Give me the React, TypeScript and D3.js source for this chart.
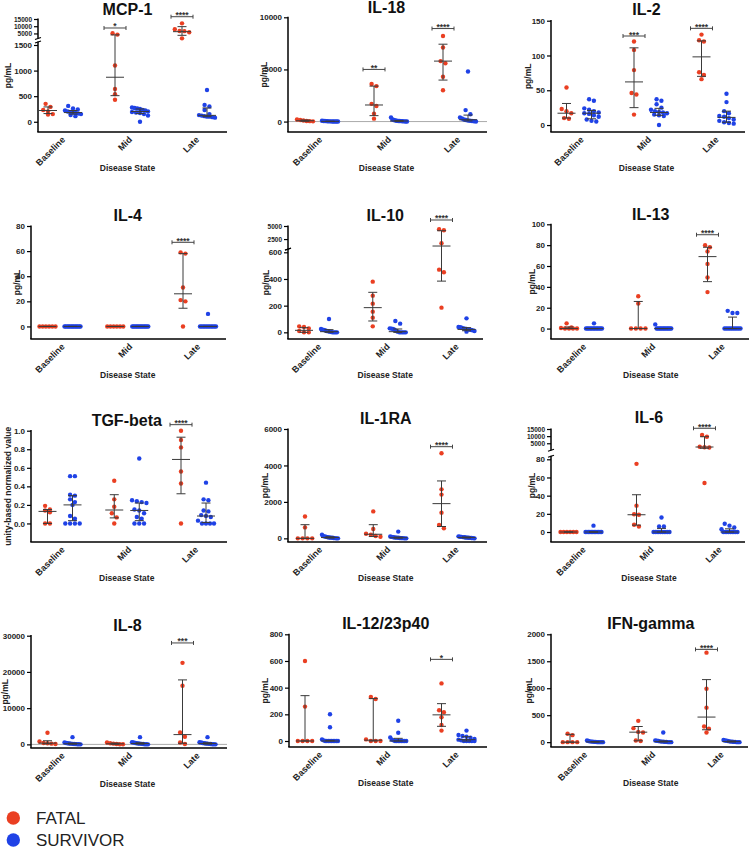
import React, { useEffect, useRef } from "react";
import * as d3 from "d3";

const STATES = ["Baseline", "Mid", "Late"];
const GROUPS = ["FATAL", "SURVIVOR"];
const COLORS = ["#ea3f22", "#1f42e6"];
const FONT = "'Liberation Sans', Arial, Helvetica, sans-serif";

// values per state [Baseline, Mid, Late]; bars are [median, q1, q3]
const MCP1_FATAL = [[350, 290, 230, 200, 150, 140], [5100, 4200, 1100, 640, 540, 430], [12000, 7900, 6700, 6600, 5800, 1600]];
const MCP1_SURV = [[310, 260, 240, 220, 200, 190, 180, 170, 160, 150, 130, 110], [280, 270, 260, 250, 230, 220, 200, 190, 180, 170, 150, 120, 0], [620, 330, 300, 230, 150, 130, 120, 110, 100, 100, 90, 80]];
const MCP1_FATAL_BARS = [[220, 160, 290], [870, 510, 4000], [6230, 3700, 9700]];
const MCP1_SURV_BARS = [[180, 150, 220], [200, 160, 250], [125, 100, 270]];
const MCP1_SIG = [["Mid", 8770, "*"], ["Late", 16590, "****"]];

const IL18_FATAL = [[200, 150, 100, 60, 40, 20], [3600, 3400, 1700, 1500, 750, 280], [8200, 7100, 5800, 5600, 4300, 3000]];
const IL18_SURV = [[80, 60, 50, 40, 30, 20, 20, 10, 10, 5, 0, 0], [400, 200, 150, 100, 80, 60, 50, 40, 30, 20, 10, 0], [4800, 1100, 700, 400, 300, 200, 150, 100, 80, 50, 30, 10]];
const IL18_FATAL_BARS = [[80, 30, 150], [1590, 570, 3400], [5800, 3980, 7420]];
const IL18_SURV_BARS = [[20, 5, 40], [55, 20, 100], [175, 60, 620]];
const IL18_SIG = [["Mid", 5000, "**"], ["Late", 8920, "****"]];

const IL2_FATAL = [[54, 23, 20, 17, 10, 9], [120, 108, 79, 46, 44, 15], [130, 122, 120, 76, 72, 66]];
const IL2_SURV = [[37, 35, 24, 22, 20, 18, 17, 16, 14, 12, 8, 6, 5], [37, 35, 30, 25, 22, 20, 19, 18, 17, 15, 14, 13, 0], [45, 33, 20, 17, 13, 12, 10, 8, 6, 4, 3, 2]];
const IL2_FATAL_BARS = [[17, 10, 31], [62, 25, 111], [98, 70, 121]];
const IL2_SURV_BARS = [[17, 9, 21], [18, 14, 24], [11, 4, 20]];
const IL2_SIG = [["Mid", 128, "***"], ["Late", 139, "****"]];

const IL4_FATAL = [[0, 0, 0, 0, 0, 0], [0, 0, 0, 0, 0, 0], [59, 58, 31, 21, 20, 0]];
const IL4_SURV = [[0, 0, 0, 0, 0, 0, 0, 0, 0, 0, 0, 0, 0], [0, 0, 0, 0, 0, 0, 0, 0, 0, 0, 0, 0, 0], [10, 0, 0, 0, 0, 0, 0, 0, 0, 0, 0, 0]];
const IL4_FATAL_BARS = [[0, 0, 0], [0, 0, 0], [26, 14.5, 58]];
const IL4_SURV_BARS = [[0, 0, 0], [0, 0, 0], [0, 0, 0]];
const IL4_SIG = [["Late", 67, "****"]];

const IL10_FATAL = [[45, 40, 30, 10, 0, 0], [380, 275, 215, 155, 110, 45], [4400, 4200, 1700, 470, 450, 185]];
const IL10_SURV = [[100, 25, 20, 18, 15, 10, 8, 5, 3, 0, 0, 0, 0], [85, 65, 30, 28, 25, 20, 10, 5, 0, 0, 0, 0, 0], [105, 40, 38, 35, 30, 28, 25, 22, 20, 18, 15, 10, 5]];
const IL10_FATAL_BARS = [[15, 0, 35], [185, 85, 300], [1170, 384, 4100]];
const IL10_SURV_BARS = [[5, 0, 20], [5, 0, 25], [22, 12, 35]];
const IL10_SIG = [["Late", 6150, "****"]];

const IL13_FATAL = [[5, 1, 0.5, 0, 0, 0, 0], [31, 24, 0, 0, 0, 0], [80, 78, 74, 62, 49, 35]];
const IL13_SURV = [[5, 0, 0, 0, 0, 0, 0, 0, 0, 0, 0, 0, 0], [4, 0, 0, 0, 0, 0, 0, 0, 0, 0, 0, 0, 0], [17, 15, 15, 0, 0, 0, 0, 0, 0, 0, 0, 0, 0]];
const IL13_FATAL_BARS = [[0, 0, 1.5], [0, 0, 26], [69, 45, 78]];
const IL13_SURV_BARS = [[0, 0, 0], [0, 0, 0], [0, 0, 11]];
const IL13_SIG = [["Late", 90, "****"]];

const TGF_FATAL = [[0.19, 0.15, 0.14, 0.12, 0, 0], [0.46, 0.26, 0.18, 0.11, 0.065, 0], [1.0, 0.9, 0.82, 0.56, 0.43, 0]];
const TGF_SURV = [[0.51, 0.51, 0.31, 0.3, 0.26, 0.23, 0.2, 0.08, 0.05, 0, 0, 0, 0], [0.7, 0.25, 0.24, 0.23, 0.22, 0.15, 0.14, 0.11, 0.07, 0.05, 0, 0, 0], [0.44, 0.26, 0.25, 0.14, 0.13, 0.09, 0.08, 0.07, 0.03, 0, 0, 0, 0]];
const TGF_FATAL_BARS = [[0.13, 0, 0.15], [0.145, 0.06, 0.31], [0.69, 0.32, 0.93]];
const TGF_SURV_BARS = [[0.2, 0.03, 0.3], [0.14, 0.03, 0.22], [0.08, 0.01, 0.22]];
const TGF_SIG = [["Late", 1.065, "****"]];

const IL1RA_FATAL = [[1200, 600, 0, 0, 0, 0], [1480, 510, 250, 200, 130, 90], [4670, 2690, 2400, 1410, 730, 550]];
const IL1RA_SURV = [[200, 120, 100, 80, 60, 50, 40, 30, 20, 10, 0, 0], [370, 100, 80, 60, 50, 40, 30, 20, 10, 10, 0, 0], [110, 90, 80, 70, 60, 50, 40, 30, 25, 20, 10, 0]];
const IL1RA_FATAL_BARS = [[0, 0, 750], [225, 100, 750], [1905, 650, 3150]];
const IL1RA_SURV_BARS = [[45, 15, 90], [35, 10, 70], [45, 22, 75]];
const IL1RA_SIG = [["Late", 5030, "****"]];

const IL6_FATAL = [[0, 0, 0, 0, 0, 0], [75, 29, 19.5, 19, 8, 6], [10800, 9600, 2600, 2200, 2000, 54]];
const IL6_SURV = [[7, 0, 0, 0, 0, 0, 0, 0, 0, 0, 0, 0, 0], [16, 6, 6, 0, 0, 0, 0, 0, 0, 0, 0, 0, 0], [9, 7, 5, 3, 0, 0, 0, 0, 0, 0, 0, 0, 0]];
const IL6_FATAL_BARS = [[0, 0, 0], [19, 7.5, 41], [2390, 1500, 9600]];
const IL6_SURV_BARS = [[0, 0, 0], [0, 0, 4], [0, 0, 3.5]];
const IL6_SIG = [["Late", 15500, "****"]];

const IL8_FATAL = [[3200, 800, 400, 300, 200, 100], [500, 300, 200, 100, 50, 30], [22500, 16200, 3300, 2100, 500, 100]];
const IL8_SURV = [[2000, 500, 400, 300, 250, 200, 150, 100, 80, 50, 30, 10], [2000, 600, 500, 400, 300, 250, 200, 150, 100, 50, 20, 10], [2000, 600, 500, 400, 300, 250, 200, 150, 100, 50, 30, 10]];
const IL8_FATAL_BARS = [[350, 150, 1000], [150, 40, 350], [2700, 300, 17800]];
const IL8_SURV_BARS = [[175, 60, 350], [225, 75, 450], [225, 75, 450]];
const IL8_SIG = [["Late", 28000, "***"]];

const IL12_FATAL = [[600, 258, 0, 0, 0, 0], [330, 315, 12, 0, 0, 0], [432, 230, 215, 178, 120, 78]];
const IL12_SURV = [[200, 103, 12, 5, 0, 0, 0, 0, 0, 0, 0, 0, 0], [152, 62, 27, 10, 5, 0, 0, 0, 0, 0, 0, 0, 0], [78, 45, 37, 32, 25, 15, 10, 5, 0, 0, 0, 0, 0]];
const IL12_FATAL_BARS = [[0, 0, 340], [6, 0, 318], [196, 110, 280]];
const IL12_SURV_BARS = [[0, 0, 5], [0, 0, 20], [10, 0, 32]];
const IL12_SIG = [["Late", 612, "*"]];

const IFN_FATAL = [[155, 130, 0, 0, 0, 0], [395, 260, 190, 180, 30, 20], [1660, 990, 640, 290, 250, 180]];
const IFN_SURV = [[30, 20, 15, 10, 10, 5, 5, 0, 0, 0, 0, 0], [180, 30, 25, 20, 15, 10, 10, 5, 5, 0, 0, 0], [40, 30, 25, 20, 15, 10, 10, 5, 5, 0, 0, 0]];
const IFN_FATAL_BARS = [[0, 0, 145], [185, 25, 290], [465, 230, 1160]];
const IFN_SURV_BARS = [[5, 0, 12], [10, 3, 22], [10, 3, 22]];
const IFN_SIG = [["Late", 1720, "****"]];

const PANELS: any[] = [
  { title: "MCP-1", data: [MCP1_FATAL, MCP1_SURV], bars: [MCP1_FATAL_BARS, MCP1_SURV_BARS], sig: MCP1_SIG,
    domains: [[-200, 1500], [1500, 15000]], ticks: [[0, 500, 1000, 1500], [5000, 10000, 15000]],
    L: { left: 38, right: 227, axisY: 132, ranges: [[132, 45], [38.5, 19]], cx: [60.5, 194.5], titleY: 15, labelX: 8 } },
  { title: "IL-18", data: [IL18_FATAL, IL18_SURV], bars: [IL18_FATAL_BARS, IL18_SURV_BARS], sig: IL18_SIG, zeroLine: true,
    domains: [[-1000, 10000]], ticks: [[0, 5000, 10000]],
    L: { left: 288, right: 487, axisY: 132, ranges: [[132, 17.3]], cx: [317.5, 455.5], titleY: 13, labelX: 264 } },
  { title: "IL-2", data: [IL2_FATAL, IL2_SURV], bars: [IL2_FATAL_BARS, IL2_SURV_BARS], sig: IL2_SIG,
    domains: [[-10, 150]], ticks: [[0, 50, 100, 150]],
    L: { left: 551, right: 745, axisY: 132, ranges: [[132, 20.7]], cx: [579, 714], titleY: 15, labelX: 528 } },
  { title: "IL-4", data: [IL4_FATAL, IL4_SURV], bars: [IL4_FATAL_BARS, IL4_SURV_BARS], sig: IL4_SIG,
    domains: [[-10, 80]], ticks: [[0, 20, 40, 60, 80]],
    L: { left: 31, right: 226, axisY: 339, ranges: [[339, 226]], cx: [60, 195.5], titleY: 221, labelX: 17 } },
  { title: "IL-10", data: [IL10_FATAL, IL10_SURV], bars: [IL10_FATAL_BARS, IL10_SURV_BARS], sig: IL10_SIG,
    domains: [[-50, 600], [600, 5000]], ticks: [[0, 200, 400, 600], [2500, 5000]],
    L: { left: 288, right: 483, axisY: 339, ranges: [[339, 252.3], [249, 226]], cx: [316.5, 454], titleY: 221, labelX: 266 } },
  { title: "IL-13", data: [IL13_FATAL, IL13_SURV], bars: [IL13_FATAL_BARS, IL13_SURV_BARS], sig: IL13_SIG,
    domains: [[-10, 100]], ticks: [[0, 20, 40, 60, 80, 100]],
    L: { left: 551, right: 749, axisY: 339, ranges: [[339, 224.3]], cx: [581.5, 720], titleY: 220, labelX: 532 } },
  { title: "TGF-beta", yLabel: "unity-based normalized value", fmt: ".1f", data: [TGF_FATAL, TGF_SURV], bars: [TGF_FATAL_BARS, TGF_SURV_BARS], sig: TGF_SIG,
    domains: [[-0.2, 1.0]], ticks: [[0, 0.2, 0.4, 0.6, 0.8, 1.0]],
    L: { left: 31, right: 227, axisY: 542, ranges: [[542, 430.7]], cx: [60, 193.5], titleY: 426, labelX: 8 } },
  { title: "IL-1RA", data: [IL1RA_FATAL, IL1RA_SURV], bars: [IL1RA_FATAL_BARS, IL1RA_SURV_BARS], sig: IL1RA_SIG,
    domains: [[-200, 6000]], ticks: [[0, 2000, 4000, 6000]],
    L: { left: 288, right: 487, axisY: 542, ranges: [[542, 429]], cx: [317.5, 454], titleY: 424, labelX: 265 } },
  { title: "IL-6", data: [IL6_FATAL, IL6_SURV], bars: [IL6_FATAL_BARS, IL6_SURV_BARS], sig: IL6_SIG,
    domains: [[-11, 80], [80, 15000]], ticks: [[0, 20, 40, 60, 80], [5000, 10000, 15000]],
    L: { left: 551, right: 745, axisY: 542, ranges: [[542, 459.3], [450.3, 429]], cx: [581, 717], titleY: 423, labelX: 532 } },
  { title: "IL-8", data: [IL8_FATAL, IL8_SURV], bars: [IL8_FATAL_BARS, IL8_SURV_BARS], sig: IL8_SIG, zeroLine: true,
    domains: [[-1000, 30000]], ticks: [[0, 10000, 20000, 30000]],
    L: { left: 31, right: 227, axisY: 748, ranges: [[748, 635.7]], cx: [60, 195], titleY: 631, labelX: 5 } },
  { title: "IL-12/23p40", data: [IL12_FATAL, IL12_SURV], bars: [IL12_FATAL_BARS, IL12_SURV_BARS], sig: IL12_SIG,
    domains: [[-45, 800]], ticks: [[0, 200, 400, 600, 800]],
    L: { left: 289, right: 487, axisY: 747, ranges: [[747, 634.3]], cx: [317.5, 454], titleY: 629, labelX: 265 } },
  { title: "IFN-gamma", data: [IFN_FATAL, IFN_SURV], bars: [IFN_FATAL_BARS, IFN_SURV_BARS], sig: IFN_SIG,
    domains: [[-90, 2000]], ticks: [[0, 500, 1000, 1500, 2000]],
    L: { left: 551, right: 748, axisY: 747, ranges: [[747, 634.3]], cx: [582.5, 719], titleY: 629, labelX: 529 } },
];

const R = 2.2;
const GROUP_OFFSET = [-12.5, 12.5];

// spread points of similar height sideways, like a dot plot
function swarm(vals: number[], y: (v: number) => number) {
  const pts = vals.map(v => ({ v, py: y(v), dx: 0 })).sort((a, b) => a.py - b.py);
  const rows: any[] = [];
  pts.forEach(p => {
    const last = rows[rows.length - 1];
    if (last && p.py - last[0].py < R * 2) last.push(p);
    else rows.push([p]);
  });
  rows.forEach(row => {
    const k = row.length;
    if (k < 2) return;
    const step = Math.min(R * 2 + 0.4, 16 / (k - 1));
    row.forEach((p: any, i: number) => { p.dx = (i - (k - 1) / 2) * step; });
  });
  return pts;
}

function drawPanel(svg: any, p: any) {
  const L = p.L;
  const g = svg.append("g");
  const scales = p.domains.map((d: number[], i: number) => d3.scaleLinear().domain(d).range(L.ranges[i]));
  const y = (v: number) => {
    for (let i = 0; i < scales.length; i++) {
      if (v <= p.domains[i][1] || i === scales.length - 1) return scales[i](v);
    }
    return 0;
  };
  const x = d3.scalePoint().domain(STATES).range(L.cx);
  const fmt = p.fmt ? d3.format(p.fmt) : d3.format("d");

  // title
  g.append("text")
    .attr("x", x("Mid")).attr("y", L.titleY)
    .attr("text-anchor", "middle")
    .style("font-family", FONT).style("font-size", "16px").style("font-weight", "bold")
    .attr("fill", "#111")
    .text(p.title);

  if (p.zeroLine) {
    g.append("line")
      .attr("x1", L.left).attr("x2", L.right)
      .attr("y1", y(0)).attr("y2", y(0))
      .attr("stroke", "#aaa").attr("stroke-width", 1);
  }

  // y axis, one piece per segment
  scales.forEach((s: any, i: number) => {
    const ax = d3.axisLeft(s).tickValues(p.ticks[i]).tickSize(4).tickPadding(2).tickFormat(fmt as any);
    const ag = g.append("g").attr("transform", "translate(" + L.left + ",0)").call(ax);
    ag.select(".domain").remove();
    ag.selectAll("line").attr("stroke", "#000").attr("stroke-width", 1.2);
    ag.selectAll("text")
      .style("font-family", FONT).style("font-size", i > 0 ? "6.5px" : "8px").style("font-weight", "bold")
      .attr("fill", "#222");
    const r = L.ranges[i];
    let y1 = r[1];
    if (scales.length > 1 && i === 0) y1 -= 3;
    g.append("line")
      .attr("x1", L.left).attr("x2", L.left)
      .attr("y1", r[0]).attr("y2", y1 - 0.6)
      .attr("stroke", "#000").attr("stroke-width", 1.5);
  });

  // break marks
  if (scales.length > 1) {
    const yb = [L.ranges[0][1] - 3, L.ranges[1][0]];
    yb.forEach(yy => {
      g.append("line")
        .attr("x1", L.left - 3).attr("x2", L.left + 3)
        .attr("y1", yy + 1).attr("y2", yy - 1)
        .attr("stroke", "#000").attr("stroke-width", 1.2);
    });
  }

  // x axis
  g.append("line")
    .attr("x1", L.left - 0.7).attr("x2", L.right)
    .attr("y1", L.axisY).attr("y2", L.axisY)
    .attr("stroke", "#000").attr("stroke-width", 1.5);

  STATES.forEach(s => {
    g.append("text")
      .attr("transform", "translate(" + (x(s)! + 3) + "," + (L.axisY + 6) + ") rotate(-45)")
      .attr("text-anchor", "end").attr("dy", "0.35em")
      .style("font-family", FONT).style("font-size", "9px").style("font-weight", "bold")
      .attr("fill", "#222")
      .text(s);
  });

  g.append("text")
    .attr("x", x("Mid")).attr("y", L.axisY + 39)
    .attr("text-anchor", "middle")
    .style("font-family", FONT).style("font-size", "8.5px").style("font-weight", "bold")
    .attr("fill", "#222")
    .text("Disease State");

  const midY = (L.axisY + L.ranges[L.ranges.length - 1][1]) / 2;
  g.append("text")
    .attr("transform", "translate(" + L.labelX + "," + midY + ") rotate(-90)")
    .attr("text-anchor", "middle").attr("dy", "0.35em")
    .style("font-family", FONT).style("font-size", "8.5px").style("font-weight", "bold")
    .attr("fill", "#222")
    .text(p.yLabel || "pg/mL");

  // dots
  GROUPS.forEach((grp, gi) => {
    STATES.forEach((s, si) => {
      const cx = x(s)! + GROUP_OFFSET[gi];
      g.append("g").selectAll("circle")
        .data(swarm(p.data[gi][si], y))
        .enter().append("circle")
        .attr("cx", (d: any) => cx + d.dx)
        .attr("cy", (d: any) => d.py)
        .attr("r", R)
        .attr("fill", COLORS[gi]);
    });
  });

  // median + interquartile range
  GROUPS.forEach((grp, gi) => {
    STATES.forEach((s, si) => {
      const cx = x(s)! + GROUP_OFFSET[gi];
      const [med, q1, q3] = p.bars[gi][si];
      const bg = g.append("g").attr("stroke", "#3a3a3a").attr("stroke-width", 1);
      bg.append("line").attr("x1", cx).attr("x2", cx).attr("y1", y(q1)).attr("y2", y(q3));
      bg.append("line").attr("x1", cx - 9).attr("x2", cx + 9).attr("y1", y(med)).attr("y2", y(med));
      [q1, q3].forEach(q => {
        bg.append("line").attr("x1", cx - 4.5).attr("x2", cx + 4.5).attr("y1", y(q)).attr("y2", y(q));
      });
    });
  });

  // significance brackets
  p.sig.forEach(([s, v, label]: any) => {
    const cx = x(s)! + GROUP_OFFSET[0];
    const yy = y(v);
    const bg = g.append("g").attr("stroke", "#444").attr("stroke-width", 1);
    bg.append("line").attr("x1", cx - 11).attr("x2", cx + 11).attr("y1", yy).attr("y2", yy);
    [cx - 11, cx + 11].forEach(xx => {
      bg.append("line").attr("x1", xx).attr("x2", xx).attr("y1", yy - 2).attr("y2", yy + 2);
    });
    g.append("text")
      .attr("x", cx).attr("y", yy + 1.5)
      .attr("text-anchor", "middle")
      .style("font-family", FONT).style("font-size", "8.5px").style("font-weight", "bold")
      .attr("fill", "#333")
      .text(label);
  });
}

function drawLegend(svg: any) {
  const lg = svg.append("g");
  GROUPS.forEach((grp, i) => {
    const cy = 818 + i * 22;
    lg.append("circle").attr("cx", 13.3).attr("cy", cy).attr("r", 6.7).attr("fill", COLORS[i]);
    lg.append("text")
      .attr("x", 36).attr("y", cy + 6)
      .style("font-family", FONT).style("font-size", "17px")
      .attr("fill", "#222")
      .text(grp);
  });
}

export default function App() {
  const ref = useRef<SVGSVGElement>(null);

  useEffect(() => {
    const svg = d3.select(ref.current);
    svg.selectAll("*").remove();
    PANELS.forEach(p => drawPanel(svg, p));
    drawLegend(svg);
  }, []);

  return (
    <svg ref={ref} width={750} height={849}
      style={{ position: "absolute", left: 0, top: 0, background: "#fff", display: "block" }} />
  );
}
